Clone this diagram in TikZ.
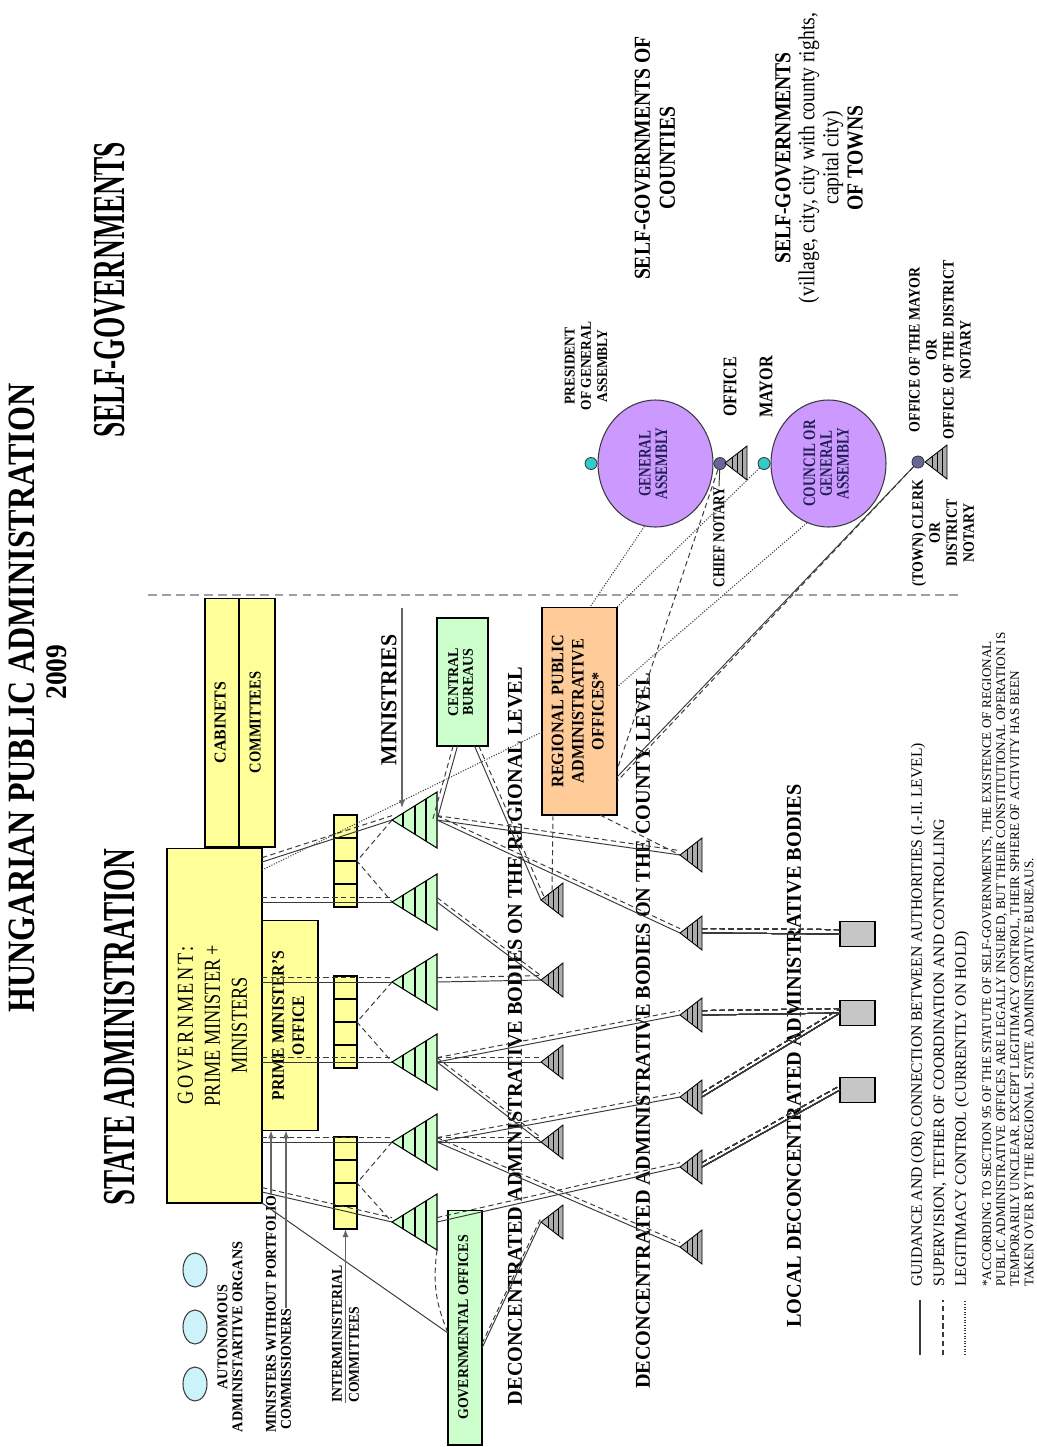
\documentclass[tikz,border=0pt]{standalone}
\usepackage{fontspec}
\setmainfont{Liberation Serif}
\usepackage{graphicx}
\usetikzlibrary{arrows.meta,positioning,calc,shapes.geometric}

\definecolor{ylw}{HTML}{FFFF99}
\definecolor{grn}{HTML}{CCFFCC}
\definecolor{org}{HTML}{FFCC99}
\definecolor{vio}{HTML}{CC99FF}
\definecolor{teal2}{HTML}{33CCCC}
\definecolor{slate}{HTML}{666699}
\definecolor{lblue}{HTML}{CCF2FA}
\definecolor{navy2}{HTML}{1F1F55}
\definecolor{ln}{HTML}{3A3A3A}

% rotated text inside a box: xscale, font, lines
\newcommand{\vt}[3]{\rotatebox{90}{\scalebox{#1}[1]{#2\begin{tabular}{@{}c@{}}#3\end{tabular}}}}
% solid + dashed pair of links
\newcommand{\duo}[3][yshift=2.5pt]{%
  \draw[guide] (#2) -- (#3);
  \draw[superv] ([#1]#2) -- ([#1]#3);}

\tikzset{
  lbl/.style={rotate=90, align=center, inner sep=0pt},
  fs/.style 2 args={font=\bfseries\fontsize{#1}{#2}\selectfont},
  fr/.style 2 args={font=\fontsize{#1}{#2}\selectfont},
  box/.style={draw, line width=0.6pt, inner sep=0pt, outer sep=0pt},
  guide/.style={draw=ln, line width=0.55pt},
  superv/.style={draw=ln, line width=0.55pt, dash pattern=on 3pt off 2pt},
  legit/.style={draw=ln, line width=0.6pt, dash pattern=on 0.6pt off 0.9pt},
  sep/.style={draw=gray!75, line width=1.2pt, dash pattern=on 5pt off 3pt},
  arr/.style={draw=gray!80!black, line width=0.6pt, -{Latex[length=1.6mm,width=1.2mm]}},
  dot/.style={circle, draw=ln, line width=0.5pt, minimum size=0.24cm, inner sep=0pt},
  % green ministry triangle
  gtri/.pic={
    \draw[line width=0.6pt, fill=grn] (0,0) coordinate (-apex) -- (45,-28) -- (45,28) -- cycle;
    \foreach \h in {11,23,34}
      \draw[line width=0.6pt] (\h,{-28*\h/45}) -- (\h,{28*\h/45});
    \coordinate (-base) at (45,0);
    \coordinate (-top) at (10,-12);
    \coordinate (-bot) at (45,28);
  },
  % small grey body triangle
  stri/.pic={
    \draw[line width=0.5pt, fill=gray!65] (0,0) coordinate (-apex) -- (22,-17) -- (22,17) -- cycle;
    \foreach \h in {7,12,17}
      \draw[line width=0.5pt] (\h,{-17*\h/22}) -- (\h,{17*\h/22});
    \coordinate (-base) at (22,0);
    \coordinate (-top) at (11,-8.5);
  }
}

\begin{document}
\begin{tikzpicture}[x=0.02cm, y=-0.02cm]
  \fill[white] (0,0) rectangle (1036,1447);
  \useasboundingbox (0,0) rectangle (1036,1447);

  % titles
  \node[lbl, fs={22}{26}, xscale=.83] (title) at (22,698) {HUNGARIAN PUBLIC ADMINISTRATION};
  \node[lbl, fs={17}{20}, xscale=.92] (year) at (57,672) {2009};
  \node[lbl, fs={26}{30}, xscale=.6] (sgov) at (110,290) {SELF-GOVERNMENTS};
  \node[lbl, fs={26}{30}, xscale=.63] (sadm) at (120,1027) {STATE ADMINISTRATION};
  \node[lbl, fs={13}{14.2}, xscale=.86] (cnties) at (655,158) {SELF-GOVERNMENTS OF\\COUNTIES};
  \node[lbl, fr={13}{13.7}, xscale=.86] (towns) at (819,158)
    {\textbf{SELF-GOVERNMENTS}\\(village, city, city with county rights,\\capital city)\\\textbf{OF TOWNS}};

  % separator
  \coordinate (sepl) at (148,595);
  \coordinate (sepr) at (962,595);
  \draw[sep] (sepl) -- (sepr);

  % self-governments
  \node[ellipse, draw=ln, line width=.6pt, fill=vio, minimum width=2.3cm, minimum height=2.54cm, inner sep=0pt] (ga) at (655.5,463.5)
    {\vt{.76}{\color{navy2}\bfseries\fontsize{10}{9.5}\selectfont}{GENERAL\\ASSEMBLY}};
  \node[ellipse, draw=ln, line width=.6pt, fill=vio, minimum width=2.3cm, minimum height=2.54cm, inner sep=0pt] (cncl) at (828.5,463.5)
    {\vt{.76}{\color{navy2}\bfseries\fontsize{10}{9.5}\selectfont}{COUNCIL OR\\GENERAL\\ASSEMBLY}};
  \node[dot, fill=teal2, left=0pt of ga] (pres) {};
  \node[dot, fill=slate, right=0pt of ga] (chief) {};
  \node[dot, fill=teal2, left=0pt of cncl] (mayor) {};
  \node[dot, fill=slate] (clerk) at (918,462) {};
  \pic (ctri) at (725,463) {stri};
  \pic (ktri) at (925,462) {stri};

  \node[lbl, fs={8.5}{9.2}, xscale=.9] (presl) at (586,366) {PRESIDENT\\OF GENERAL\\ASSEMBLY};
  \node[lbl, fs={11}{12}, xscale=.82] (offl) at (730,387) {OFFICE};
  \node[lbl, fs={9.5}{10}, xscale=.79] (chiefl) at (719,537) {CHIEF NOTARY};
  \node[lbl, fs={11}{12}, xscale=.84] (mayorl) at (766,387) {MAYOR};
  \node[lbl, fs={9}{9.7}, xscale=.88] (omay) at (940,350) {OFFICE OF THE MAYOR\\OR\\OFFICE OF THE DISTRICT\\NOTARY};
  \node[lbl, fs={9}{9.7}, xscale=.88] (clerkl) at (943,533) {(TOWN) CLERK\\OR\\DISTRICT\\NOTARY};

  % government
  \node[box, fill=ylw, minimum width=.68cm, minimum height=4.98cm] (cab) at (222,722.5)
    {\vt{.95}{\bfseries\fontsize{9.5}{10}\selectfont}{CABINETS}};
  \node[box, fill=ylw, minimum width=.72cm, minimum height=4.98cm, right=0pt of cab] (com)
    {\vt{.87}{\bfseries\fontsize{9.5}{10}\selectfont}{COMMITTEES}};
  \node[box, fill=ylw, minimum width=1.9cm, minimum height=7.1cm] (gov) at (214.5,1025.5)
    {\vt{.8}{\fontsize{13}{15.4}\selectfont}{{\addfontfeature{LetterSpace=14}GOVERNMENT:}\\PRIME MINISTER +\\MINISTERS}};
  \node[box, fill=ylw, minimum width=1.12cm, minimum height=4.2cm, right=0pt of gov] (pmo)
    {\vt{.89}{\bfseries\fontsize{10}{11.4}\selectfont}{PRIME MINISTER'S\\OFFICE}};
  \node[box, fill=grn, minimum width=1.02cm, minimum height=2.56cm] (cb) at (462.5,682)
    {\vt{.94}{\bfseries\fontsize{8.5}{8.5}\selectfont}{CENTRAL\\BUREAUS}};
  \node[box, fill=org, minimum width=1.5cm, minimum height=4.16cm] (rpao) at (579.5,711)
    {\vt{.92}{\bfseries\fontsize{10}{11.4}\selectfont}{REGIONAL PUBLIC\\ADMINISTRATIVE\\OFFICES*}};
  \node[box, fill=grn, minimum width=.68cm, minimum height=4.7cm] (go) at (465,1327.5)
    {\vt{.93}{\bfseries\fontsize{8.5}{9}\selectfont}{GOVERNMENTAL OFFICES}};

  % interministerial committees
  \foreach \g/\y in {1/815,2/976,3/1137}{
    \foreach \c in {0,...,3}{
      \node[box, fill=ylw, minimum width=.46cm, minimum height=.46cm] (im\g\c) at (345.5,{\y+11.5+23*\c}) {};
    }
  }
  % autonomous organs
  \foreach \i/\y in {1/1270,2/1327,3/1384}
    \node[ellipse, draw=ln, line width=.6pt, fill=lblue, minimum width=.48cm, minimum height=.68cm, inner sep=0pt] (ao\i) at (195,\y) {};
  % ministries, regional and county bodies, local bodies
  \foreach \i/\y in {1/820,2/902,3/982,4/1062,5/1142,6/1222}
    \pic (t\i) at (392,\y) {gtri};
  \foreach \i/\y in {1/900,2/980,3/1062,4/1142,5/1222}
    \pic (a\i) at (541,\y) {stri};
  \foreach \i/\y in {0/855,1/933,2/1015,3/1097,4/1167,5/1247}
    \pic (b\i) at (680,\y) {stri};
  \foreach \i/\y in {1/934,2/1013,3/1090}
    \node[box, fill=gray!45, minimum width=.7cm, minimum height=.5cm] (l\i) at (857.5,\y) {};

  \node[lbl, fs={13}{14}, xscale=.95] (minl) at (389,700) {MINISTRIES};
  \node[lbl, fs={8.5}{8.5}, xscale=.95] (autol) at (230,1337) {AUTONOMOUS\\ADMINISTARTIVE ORGANS};
  \node[lbl, fs={8.5}{9}, xscale=.93, anchor=west] (mwp) at (271,1433) {MINISTERS WITHOUT PORTFOLIO};
  \node[lbl, fs={8.5}{9}, xscale=.93, anchor=west] (comm) at (286,1430) {COMMISSIONERS};
  \node[lbl, fs={8.5}{9}, xscale=.92, anchor=west] (imc1) at (337,1403) {INTERMINISTERIAL};
  \node[lbl, fs={8.5}{9}, xscale=.92, anchor=west] (imc2) at (354,1403) {COMMITTEES};
  \node[lbl, fs={12}{13}, xscale=.96] (lreg) at (515,1036) {DECONCENTRATED ADMINISTRATIVE BODIES ON THE REGIONAL LEVEL};
  \node[lbl, fs={12}{13}, xscale=.96] (lcty) at (643,1031) {DECONCENTRATED ADMINISTRATIVE BODIES ON THE COUNTY LEVEL};
  \node[lbl, fs={12}{13}, xscale=.96] (lloc) at (794,1056) {LOCAL DECONCENTRATED ADMINISTRATIVE BODIES};

  % government to ministries
  \coordinate (g1) at ($(gov.north east)+(0,14)$);
  \coordinate (gdot) at ($(gov.north east)+(0,22)$);
  \foreach \i in {2,...,5}
    \coordinate (g\i) at (gov.east |- t\i-apex);
  \coordinate (g6) at ($(gov.south east)+(0,-11)$);
  \foreach \i in {1,...,6}
    \duo{g\i}{t\i-apex}
  \coordinate (rp1) at ($(rpao.north west)+(0,125)$);
  \draw[legit] (gdot) -- (rp1);
  \foreach \g/\a/\b in {1/1/2,2/3/4,3/5/6}
    \draw[superv] (t\a-apex) -- (im\g1.south east) -- (t\b-apex);
  \coordinate (gol) at ($(go.north west)+(0,123)$);
  \draw[guide] (gov.south east) -- (gol);
  \draw[superv] (t6-bot) to[bend right=15] (gol);

  % arrows from labels
  \coordinate (mtail) at (402,608);
  \coordinate (imtail) at (im33.south |- imc1.west);
  \draw[arr] (mtail) -- (t1-top);
  \draw[arr] (mwp.east) -- (mwp.east |- pmo.south);
  \draw[arr] (comm.east) -- (comm.east |- pmo.south);
  \draw[arr] (imtail) -- (im33.south);

  % ministries and bureaus to deconcentrated bodies
  \coordinate (cb1) at ($(cb.south)+(-5,0)$);
  \coordinate (cb2) at ($(cb.south)+(12,0)$);
  \duo[xshift=-2.5pt]{cb1}{t1-base}
  \duo[xshift=2.5pt]{cb2}{a1-apex}
  \foreach \s/\e in {t1/b0,t1/b1,t2/a2,t3/a2,t4/a3,t4/b2,t4/a4,t5/a4,t5/b3,t5/b5,t6/b4}
    \duo{\s-base}{\e-apex}
  \foreach \s/\e in {b1/l1,b2/l2,b3/l2,b4/l3}
    \duo{\s-base}{\e.west}
  \coordinate (go1) at ($(go.north east)+(0,138)$);
  \duo{go1}{a5-apex}

  % regional offices
  \coordinate (rb1) at ($(rpao.south west)+(11,0)$);
  \coordinate (rb2) at ($(rpao.south west)+(58,0)$);
  \draw[superv] (rb1) -- (a1-top);
  \draw[superv] (rb2) -- (b0-apex);

  % self-governments to regional offices
  \coordinate (rt1) at ($(rpao.north west)+(48,0)$);
  \coordinate (re1) at ($(rpao.north east)+(0,80)$);
  \coordinate (re2) at ($(rpao.north east)+(0,163)$);
  \coordinate (re3) at ($(rpao.north east)+(0,170)$);
  \draw[legit] (ga.-100) -- (rt1);
  \draw[legit] (mayor) -- (rpao.north east);
  \draw[legit] (cncl.-110) -- (re1);
  \draw[superv] (chief) -- (re2);
  \duo[yshift=-2.5pt]{clerk}{re3}
  \draw[guide] (chief) -- (chiefl.east);

  % legend
  \foreach \i/\xx/\st in {1/920/guide,2/943/superv,3/965/legit}{
    \coordinate (ls\i) at (\xx,1355);
    \draw[\st, line width=1pt] (ls\i) -- ++(0,-55);
  }
  \node[lbl, fr={9}{10}, xscale=.99, anchor=west] (lg1) at (918,1287) {GUIDANCE AND (OR) CONNECTION BETWEEN AUTHORITIES (I.-II. LEVEL)};
  \node[lbl, fr={9}{10}, xscale=.99, anchor=west] (lg2) at (940,1287) {SUPERVISION, TETHER OF COORDINATION AND CONTROLLING};
  \node[lbl, fr={9}{10}, xscale=.99, anchor=west] (lg3) at (962,1287) {LEGITIMACY CONTROL (CURRENTLY ON HOLD)};
  \node[lbl, fr={7.5}{8}, xscale=1, anchor=north west, align=left] (note) at (982,1287)
    {*ACCORDING TO SECTION 95 OF THE STATUTE OF SELF-GOVERNMENTS, THE EXISTENCE OF REGIONAL\\
     PUBLIC ADMINISTRATIVE OFFICES ARE LEGALLY INSURED, BUT THEIR CONSTITUTIONAL OPERATION IS\\
     TEMPORARILY UNCLEAR. EXCEPT LEGITIMACY CONTROL, THEIR SPHERE OF ACTIVITY HAS BEEN\\
     TAKEN OVER BY THE REGIONAL STATE ADMINISTRATIVE BUREAUS.};
\end{tikzpicture}
\end{document}
